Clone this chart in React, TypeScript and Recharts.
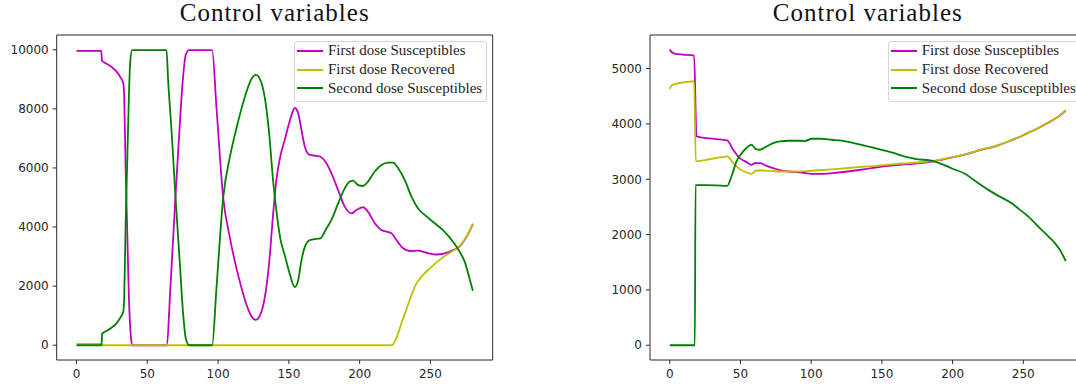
import React from 'react';
import { LineChart, Line, XAxis, YAxis, ReferenceArea, Legend } from 'recharts';

type Pt = [number, number];

// Shared axis ticks and series styling
const xTicks = [0, 50, 100, 150, 200, 250];
const leftYTicks = [0, 2000, 4000, 6000, 8000, 10000];
const rightYTicks = [0, 1000, 2000, 3000, 4000, 5000];
const seriesNames = ['First dose Susceptibles', 'First dose Recovered', 'Second dose Susceptibles'];
const seriesColors = ['#bf00bf', '#bfbf00', '#008000'];
const titleText = 'Control variables';

// Left panel: [day, value]
const leftFirstSusceptibles: Pt[] = [
  [0, 9960], [17.5, 9960], [18, 9630], [20, 9560], [24.7, 9420], [28.2, 9270], [31.3, 9050], [33, 8870],
  [33.7, 8420], [34.6, 6160], [35.8, 3900], [37, 1640], [38.4, 290], [39.3, 0], [63.6, 0], [66.6, 2200],
  [69.9, 5030], [73, 7510], [75.3, 9100], [77.2, 9830], [79.6, 9990], [95.8, 9990], [98.9, 8020],
  [103.6, 5000], [108.3, 3650], [113, 2600], [116.5, 1950], [120, 1380], [123.6, 980], [126.7, 860],
  [130, 1050], [133, 1620], [136.1, 2800], [138.9, 4450], [141.2, 5600], [144, 6400], [147.1, 6950],
  [150.7, 7600], [154.2, 8030], [156.6, 7850], [158.9, 7290], [161.3, 6720], [164.8, 6440], [169.5, 6410],
  [172.3, 6380], [176.5, 6160], [180.1, 5820], [184.8, 5250], [189.5, 4690], [194.2, 4460], [197.7, 4580],
  [202.4, 4670], [205.9, 4520], [210.7, 4130], [215.4, 3900], [222.5, 3790], [226, 3560], [230.7, 3280],
  [235.5, 3190], [241.3, 3200], [247.2, 3130], [254.4, 3070], [260.1, 3110], [266, 3220], [270.7, 3350],
  [275.4, 3660], [280, 4100],
];
const leftFirstRecovered: Pt[] = [
  [0, 45], [17.7, 45], [18, 0], [222.5, 0], [231.9, 1070], [240.1, 2090], [243.7, 2320], [250.7, 2650],
  [257.8, 2940], [264.9, 3160], [270.7, 3360], [275.4, 3670], [280, 4120],
];
const leftSecondSusceptibles: Pt[] = [
  [0, 0], [17.7, 0], [18.1, 400], [20, 450], [24.7, 590], [28.2, 740], [31.3, 960], [33, 1130],
  [33.7, 1640], [34.6, 3900], [35.8, 6160], [37, 8420], [37.9, 9550], [39.3, 9990], [63.6, 9990],
  [64.7, 8980], [67.1, 7290], [69.9, 5030], [73, 2770], [75.3, 1070], [77.2, 230], [79.6, 0], [95.8, 0],
  [98.9, 1960], [103.6, 4990], [108.3, 6360], [113, 7350], [116.5, 8000], [120, 8570], [123.6, 9010],
  [126.7, 9150], [130, 8960], [133, 8380], [136.1, 7160], [138.9, 5550], [141.7, 4350], [144, 3600],
  [147.1, 3050], [150.7, 2400], [154.2, 1970], [156.6, 2200], [158.9, 2880], [161.3, 3330], [164.8, 3560],
  [169.5, 3600], [172.3, 3620], [176.5, 3950], [180.1, 4240], [184.8, 4800], [189.5, 5310], [193, 5540],
  [195.4, 5570], [198.9, 5420], [202.4, 5390], [205.9, 5540], [210.7, 5880], [215.4, 6100], [220.1, 6180],
  [223.7, 6180], [227.2, 5990], [231.9, 5590], [236.6, 5030], [241.3, 4630], [246, 4410], [253, 4130],
  [260.1, 3840], [266, 3500], [270.7, 3160], [274.2, 2830], [277.3, 2320], [280, 1840],
];

// Right panel: [day, value]
const rightFirstSusceptibles: Pt[] = [
  [0, 5345], [1.2, 5300], [3.5, 5272], [9.4, 5254], [17.2, 5236], [18.9, 3774], [25.9, 3744], [33, 3726],
  [40.6, 3702], [44.8, 3533], [49.5, 3382], [54.3, 3309], [57.8, 3261], [60.2, 3291], [63.7, 3291],
  [68.4, 3243], [73.1, 3201], [77.8, 3165], [83.7, 3140], [93.2, 3122], [100.3, 3098], [107.3, 3098],
  [119.1, 3122], [130.9, 3158], [142.7, 3201], [154.5, 3243], [166.3, 3270], [173.4, 3282], [187.5, 3328],
  [200, 3395], [210, 3455], [220, 3530], [230, 3596], [240, 3686], [250, 3796], [260, 3916], [270, 4056],
  [275, 4136], [280, 4242],
];
const rightFirstRecovered: Pt[] = [
  [0, 4632], [1.2, 4692], [4.7, 4729], [10.6, 4753], [17.2, 4771], [18.4, 3322], [25.9, 3352], [35.4, 3394],
  [40.6, 3412], [44.8, 3291], [49.5, 3183], [54.3, 3122], [57.8, 3098], [61.3, 3158], [66.1, 3158],
  [73.1, 3145], [77.8, 3140], [88.5, 3140], [102.6, 3158], [116.8, 3183], [130.9, 3213], [145.1, 3243],
  [159.2, 3273], [173.4, 3300], [187.5, 3335], [200, 3400], [210, 3460], [220, 3535], [230, 3600],
  [240, 3690], [250, 3800], [260, 3920], [270, 4060], [275, 4140], [280, 4245],
];
const rightSecondSusceptibles: Pt[] = [
  [0, 0], [17.7, 0], [18.2, 2893], [25, 2893], [33, 2890], [40.6, 2881], [43.6, 3050], [47.2, 3322],
  [51.9, 3503], [55.4, 3593], [57.8, 3623], [60.9, 3545], [63.7, 3533], [68.4, 3593], [73.1, 3654],
  [77.8, 3684], [83.7, 3696], [93.2, 3696], [95.5, 3690], [100.3, 3732], [107.3, 3732], [114.4, 3714],
  [121.5, 3696], [133.3, 3635], [145.1, 3563], [156.9, 3485], [168.7, 3394], [173.4, 3370], [187.5, 3320],
  [200, 3190], [208.8, 3098], [217, 2950], [225.3, 2808], [233, 2690], [241.8, 2567], [247, 2460],
  [253.6, 2325], [263, 2083], [268, 1960], [272.5, 1842], [276, 1720], [280, 1522],
];

const toRows = (pts: Pt[]) => pts.map(([t, v]) => ({ t, v }));

const tickStyle = { fontFamily: '"DejaVu Sans", sans-serif', fontSize: 12, fill: '#262626' };
const frameColor = '#2a2a2a';

// Legend entries keep the plotting order of the series
const renderLegend = (props: any) => {
  const payload = [...((props && props.payload) || [])].sort(
    (a: any, b: any) => seriesNames.indexOf(a.value) - seriesNames.indexOf(b.value)
  );
  return (
    <div
      style={{
        border: '1px solid #d6d6d6',
        borderRadius: 3,
        background: 'rgba(255,255,255,0.85)',
        padding: '0px 4px 3px 2px',
        fontFamily: '"Liberation Serif", "Times New Roman", serif',
        fontSize: 15,
        color: '#1e1e1e',
        whiteSpace: 'nowrap',
      }}
    >
      {payload.map((entry: any) => (
        <div key={entry.value} style={{ display: 'flex', alignItems: 'center', height: 18.8 }}>
          <svg width={26} height={4} style={{ marginRight: 5, flex: 'none' }}>
            <line x1={0} x2={26} y1={2} y2={2} stroke={entry.color} strokeWidth={2} />
          </svg>
          <span>{entry.value}</span>
        </div>
      ))}
    </div>
  );
};

type PanelProps = {
  left: number;
  width: number;
  margin: { top: number; right: number; bottom: number; left: number };
  yDomain: [number, number];
  yTicks: number[];
  series: Pt[][];
  legendLeft: number;
};

function Panel({ left, width, margin, yDomain, yTicks, series, legendLeft }: PanelProps) {
  return (
    <div style={{ position: 'absolute', left, top: 0 }}>
      <LineChart width={width} height={387} margin={margin}>
        <XAxis
          type="number"
          dataKey="t"
          domain={[-14, 294]}
          ticks={xTicks}
          interval={0}
          allowDataOverflow
          height={27}
          tickSize={4}
          tickMargin={5}
          axisLine={false}
          tickLine={{ stroke: frameColor }}
          tick={tickStyle}
        />
        <YAxis
          type="number"
          dataKey="v"
          domain={yDomain}
          ticks={yTicks}
          interval={0}
          allowDataOverflow
          width={50}
          tickSize={4}
          tickMargin={4}
          axisLine={false}
          tickLine={{ stroke: frameColor }}
          tick={tickStyle}
        />
        <ReferenceArea
          x1={-14}
          x2={294}
          y1={yDomain[0]}
          y2={yDomain[1]}
          fill="none"
          fillOpacity={0}
          stroke={frameColor}
          strokeWidth={1}
          ifOverflow="visible"
        />
        {series.map((pts, i) => (
          <Line
            key={seriesNames[i]}
            name={seriesNames[i]}
            data={toRows(pts)}
            dataKey="v"
            type="monotone"
            stroke={seriesColors[i]}
            strokeWidth={1.8}
            dot={false}
            activeDot={false}
            isAnimationActive={false}
          />
        ))}
        <Legend
          layout="vertical"
          align="center"
          verticalAlign="middle"
          content={renderLegend}
          wrapperStyle={{ left: legendLeft, top: 40.5, width: 'auto', height: 'auto' }}
        />
      </LineChart>
    </div>
  );
}

export default function App() {
  return (
    <div
      style={{
        position: 'absolute',
        left: 0,
        top: 0,
        width: 1076,
        height: 387,
        overflow: 'hidden',
        background: '#fff',
      }}
    >
      <Panel
        left={0}
        width={540}
        margin={{ top: 35, right: 47.3, bottom: 0, left: 6.7 }}
        yDomain={[-500, 10500]}
        yTicks={leftYTicks}
        series={[leftFirstSusceptibles, leftFirstRecovered, leftSecondSusceptibles]}
        legendLeft={294}
      />
      <Panel
        left={540}
        width={560}
        margin={{ top: 35, right: 14.5, bottom: 0, left: 60 }}
        yDomain={[-267, 5607]}
        yTicks={rightYTicks}
        series={[rightFirstSusceptibles, rightFirstRecovered, rightSecondSusceptibles]}
        legendLeft={347.7}
      />
      <svg
        width={1076}
        height={387}
        style={{ position: 'absolute', left: 0, top: 0, pointerEvents: 'none' }}
      >
        <text
          x={274.7}
          y={20.7}
          textAnchor="middle"
          fontFamily='"Liberation Serif", "Times New Roman", serif'
          fontSize={25}
          letterSpacing={1}
          fill="#111"
        >
          {titleText}
        </text>
        <text
          x={867.8}
          y={20.7}
          textAnchor="middle"
          fontFamily='"Liberation Serif", "Times New Roman", serif'
          fontSize={25}
          letterSpacing={1}
          fill="#111"
        >
          {titleText}
        </text>
      </svg>
    </div>
  );
}
